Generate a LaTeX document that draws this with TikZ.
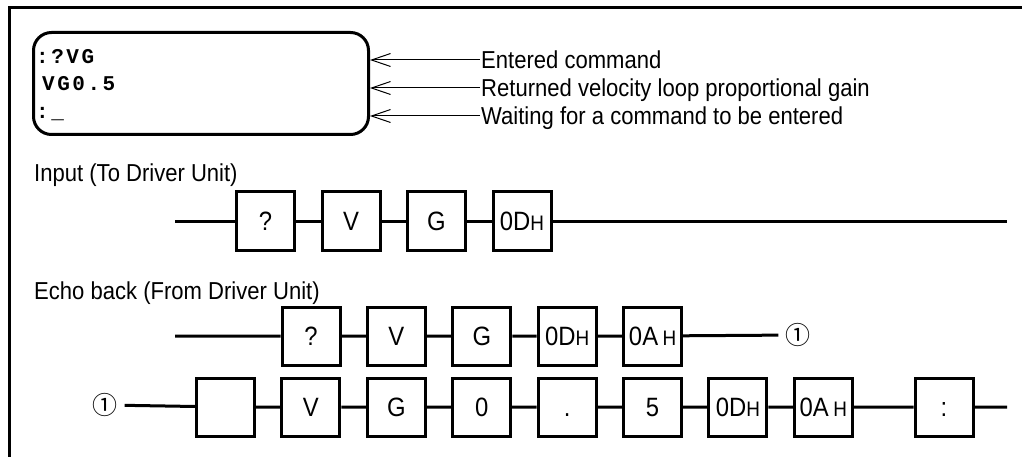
\documentclass[tikz,border=0pt]{standalone}
\usepackage{fontspec}
\setmainfont{Liberation Sans}[FakeStretch=0.9]
\newfontfamily\termfont[LetterSpace=12]{Liberation Mono}
\newfontfamily\circfont{Noto Sans CJK JP}
\usetikzlibrary{arrows.meta}

\newcommand{\hsfx}{{\fontsize{21}{21}\selectfont H}}

\tikzset{
  byte/.style={draw,line width=3pt,minimum width=58pt,minimum height=58pt,inner sep=0pt,
    text height=18pt,text depth=0pt,font=\fontsize{26.5}{26.5}\selectfont},
  wire/.style={line width=3pt},
  note/.style={anchor=west,inner sep=1pt,text height=17.5pt,text depth=0pt,
    font=\fontsize{24.5}{24.5}\selectfont},
  term/.style={anchor=base west,inner sep=0pt,font=\fontsize{21}{21}\termfont\bfseries},
  pointer/.style={line width=1pt,-{Straight Barb[length=19pt,width=13pt]}},
  refmark/.style={inner sep=7pt,font=\fontsize{25}{25}\circfont},
}

\begin{document}
\begin{tikzpicture}[x=1pt,y=-1pt]
\useasboundingbox (0,0) rectangle (1022,457);
% frame
\draw[line width=3pt] (9,457) -- (9,8) -- (1022,8);

% screen
\node[draw,line width=3pt,rounded corners=18pt,minimum width=335pt,minimum height=102pt,inner sep=0pt] (screen) at (201,83.5) {};
\node[term] (t1) at (36,64) {:?VG};
\node[term] (t2) at (42,91) {VG0.5};
\node[term] (t3) at (36,119) {:\_};

\node[note] (lblcmd) at (480,60) {Entered command};
\node[note] (lblgain) at (480,88) {Returned velocity loop proportional gain};
\node[note] (lblwait) at (480,116) {Waiting for a command to be entered};
\draw[pointer] (lblcmd.west) -- (screen.east |- lblcmd.west);
\draw[pointer] (lblgain.west) -- (screen.east |- lblgain.west);
\draw[pointer] (lblwait.west) -- (screen.east |- lblwait.west);

% input
\node[note] (lblin) at (33,173) {Input (To Driver Unit)};
\coordinate (inA) at (175,221);
\coordinate (inZ) at (1007,221);
\foreach \c [count=\i] in {?,V,G,0D\hsfx}
  \node[byte] (in\i) at ({180+85.5*\i},221) {\c};
\draw[wire] (inA) -- (in1) (in1) -- (in2) (in2) -- (in3) (in3) -- (in4) (in4) -- (inZ);

% echo back
\node[note] (lblecho) at (33,291) {Echo back (From Driver Unit)};
\coordinate (ecA) at (175,336);
\foreach \c [count=\i] in {?,V,G,0D\hsfx,0A\,\hsfx}
  \node[byte] (ec\i) at ({225.6+85.4*\i},336) {\c};
\node[refmark] (mk1) at (798,335) {①};
\draw[wire] (ecA) -- (ec1) (ec1) -- (ec2) (ec2) -- (ec3) (ec3) -- (ec4) (ec4) -- (ec5) (ec5) -- (mk1);

\node[refmark] (mk2) at (105,405) {①};
\foreach \c [count=\i] in {{},V,G,0,.,5,0D\hsfx,0A\,\hsfx}
  \node[byte] (rs\i) at ({140.1+85.4*\i},407) {\c};
\node[byte] (rs9) at (944,407) {:};
\coordinate (rsZ) at (1007,407);
\draw[wire] (mk2) -- (rs1) (rs1) -- (rs2) (rs2) -- (rs3) (rs3) -- (rs4) (rs4) -- (rs5)
  (rs5) -- (rs6) (rs6) -- (rs7) (rs7) -- (rs8) (rs8) -- (rs9) (rs9) -- (rsZ);
\end{tikzpicture}
\end{document}
